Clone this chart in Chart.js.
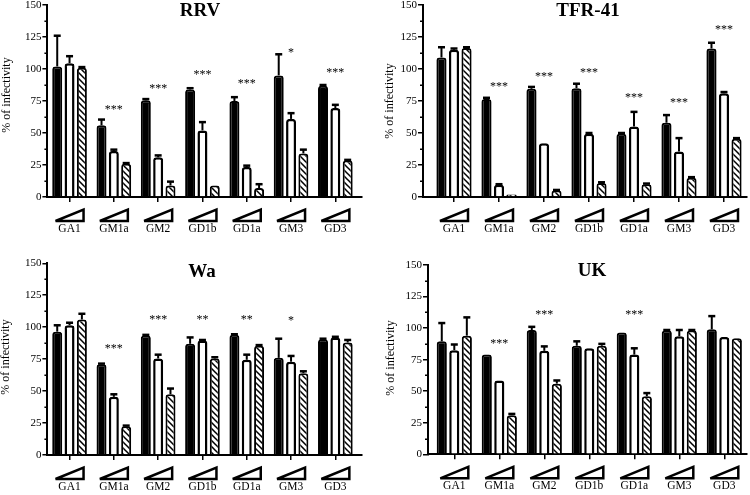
<!DOCTYPE html>
<html><head><meta charset="utf-8">
<script src="https://cdn.jsdelivr.net/npm/chart.js@4.4.1/dist/chart.umd.min.js"></script>
<style>
html,body{margin:0;padding:0;background:#fff;}
body{width:750px;height:495px;position:relative;overflow:hidden;}
canvas{position:absolute;}
</style></head><body>
<canvas id="c0" width="375" height="247" style="left:0;top:0"></canvas>
<canvas id="c1" width="375" height="247" style="left:375px;top:0"></canvas>
<canvas id="c2" width="375" height="248" style="left:0;top:247px"></canvas>
<canvas id="c3" width="375" height="248" style="left:375px;top:247px"></canvas>
<script>
// ---------- data ----------
const categories = ['GA1','GM1a','GM2','GD1b','GD1a','GM3','GD3'];
const yTickStep = 25;
const yMax = 150;

// RRV
const rrvLow     = [102, 56, 75.5, 84, 75, 95, 87];
const rrvLowErr  = [24, 4.5, 1, 1, 3, 16.5, 0.5];
const rrvMid     = [104.5, 36, 31, 52, 23.5, 61, 69.5];
const rrvMidErr  = [5.5, 1, 1.5, 6.5, 1, 4.5, 2.5];
const rrvHigh    = [101, 26, 9, 9, 7, 34, 28.5];
const rrvHighErr = [0.5, 0.5, 3, 0, 3, 3, 0.5];
const rrvStars   = ['', '***', '***', '***', '***', '*', '***'];
const rrvStarAt  = [null, 70, 86.5, 97.5, 91, 114.5, 99.5];

// TFR-41
const tfrLow     = [109, 76.5, 84.5, 85, 49.5, 58, 116];
const tfrLowErr  = [8, 1, 1.5, 3.5, 0.5, 6, 4.5];
const tfrMid     = [115, 9.5, 42, 49.5, 55, 35.5, 81];
const tfrMidErr  = [1, 0.5, 0, 0.5, 11.5, 10.5, 1];
const tfrHigh    = [116.5, 2, 5, 11, 10, 15, 45.5];
const tfrHighErr = [0.5, 0, 0.5, 0.5, 0.5, 0.5, 0.5];
const tfrStars   = ['', '***', '***', '***', '***', '***', '***'];
const tfrStarAt  = [null, 88.5, 96, 99.5, 79.5, 76, 133];

// Wa
const waLow     = [96.5, 71, 93.5, 87, 94, 76, 90.5];
const waLowErr  = [5, 0.5, 0.5, 5, 0.5, 15, 0.5];
const waMid     = [101.5, 45.5, 75.5, 89.5, 74.5, 73, 92];
const waMidErr  = [2, 2, 3, 0.5, 4, 4.5, 0.5];
const waHigh    = [106, 22.5, 47.5, 75.5, 85.5, 64, 88];
const waHighErr = [4.5, 0.5, 4.5, 1, 0.5, 1.5, 2];
const waStars   = ['', '***', '***', '**', '**', '*', ''];
const waStarAt  = [null, 85, 108, 108, 108, 107, null];

// UK
const ukLow     = [89.5, 79, 98.5, 86, 96.5, 98, 99];
const ukLowErr  = [14.5, 0, 2.5, 3.5, 0, 0.5, 10.5];
const ukMid     = [82.5, 58.5, 82, 84, 79, 93.5, 93];
const ukMidErr  = [4.5, 0, 3.5, 0, 5, 5, 0];
const ukHigh    = [94, 31, 56, 86, 46, 98, 92];
const ukHighErr = [14.5, 1, 2.5, 1.5, 2.5, 0.5, 0];
const ukStars   = ['', '***', '***', '', '***', '', ''];
const ukStarAt  = [null, 90, 113, null, 113, null, null];

const panelTitles = ['RRV', 'TFR-41', 'Wa', 'UK'];
const yAxisTitle = '% of infectivity';

// ---------- layout (positions only) ----------
const layouts = [
  {id:'c0', padTop:5,    yWidth:47.4, padRight:17.5, xHeight:50,   yShift:0,    xExtL:0,   xExtR:4.5, tX:200, tY:15.5, ytX:7,  ytY:95},
  {id:'c1', padTop:5,    yWidth:56.5, padRight:3.5,  xHeight:50,   yShift:-8.5, xExtL:8.5, xExtR:0,   tX:213, tY:15.5, ytX:15, ytY:101},
  {id:'c2', padTop:16.3, yWidth:47.4, padRight:17.5, xHeight:40,   yShift:0,    xExtL:0,   xExtR:4.5, tX:202, tY:29.5, ytX:6,  ytY:110},
  {id:'c3', padTop:18,   yWidth:56.8, padRight:3.2,  xHeight:40.7, yShift:-3.8, xExtL:3.8, xExtR:0,   tX:217, tY:29,   ytX:16, ytY:111}
];
const panelData = [
  {low:rrvLow, lowErr:rrvLowErr, mid:rrvMid, midErr:rrvMidErr, high:rrvHigh, highErr:rrvHighErr, stars:rrvStars, starAt:rrvStarAt},
  {low:tfrLow, lowErr:tfrLowErr, mid:tfrMid, midErr:tfrMidErr, high:tfrHigh, highErr:tfrHighErr, stars:tfrStars, starAt:tfrStarAt},
  {low:waLow,  lowErr:waLowErr,  mid:waMid,  midErr:waMidErr,  high:waHigh,  highErr:waHighErr,  stars:waStars,  starAt:waStarAt},
  {low:ukLow,  lowErr:ukLowErr,  mid:ukMid,  midErr:ukMidErr,  high:ukHigh,  highErr:ukHighErr,  stars:ukStars,  starAt:ukStarAt}
];

const SERIF = '"Liberation Serif", "DejaVu Serif", serif';

function makeHatch(ctx){
  const s = 6;
  const c = document.createElement('canvas'); c.width = s; c.height = s;
  const g = c.getContext('2d');
  g.fillStyle = '#fff'; g.fillRect(0,0,s,s);
  g.strokeStyle = '#000'; g.lineWidth = 1.5;
  g.beginPath();
  g.moveTo(-1,-1); g.lineTo(s+1,s+1);
  g.moveTo(-1,s-1); g.lineTo(1,s+1);
  g.moveTo(s-1,-1); g.lineTo(s+1,1);
  g.stroke();
  return ctx.createPattern(c, 'repeat');
}

const decor = {
  id: 'decor',
  afterLayout(chart){
    const p = chart.options.plugins.decor;
    const xs = chart.scales.x, ys = chart.scales.y;
    ys.left += p.L.yShift; ys.right += p.L.yShift;
    xs.left -= p.L.xExtL; xs.right += p.L.xExtR;
  },
  afterDatasetsDraw(chart){
    const p = chart.options.plugins.decor;
    const ys = chart.scales.y;
    const ctx = chart.ctx;
    const errs = [p.D.lowErr, p.D.midErr, p.D.highErr];
    const vals = [p.D.low, p.D.mid, p.D.high];
    ctx.save();
    ctx.strokeStyle = '#000';
    for (let d = 0; d < 3; d++){
      const meta = chart.getDatasetMeta(d);
      meta.data.forEach((el, j) => {
        const e = errs[d][j];
        if (!e) return;
        const yTop = ys.getPixelForValue(vals[d][j] + e);
        ctx.lineWidth = 2;
        ctx.beginPath(); ctx.moveTo(el.x, el.y); ctx.lineTo(el.x, yTop); ctx.stroke();
        ctx.lineWidth = 2.5;
        ctx.beginPath(); ctx.moveTo(el.x - 3.5, yTop); ctx.lineTo(el.x + 3.5, yTop); ctx.stroke();
      });
    }
    ctx.restore();
  },
  afterDraw(chart){
    const p = chart.options.plugins.decor;
    const L = p.L, D = p.D;
    const xs = chart.scales.x, ys = chart.scales.y;
    const ctx = chart.ctx;
    ctx.save();
    ctx.fillStyle = '#000'; ctx.strokeStyle = '#000';
    // minor y ticks
    ctx.lineWidth = 1.5;
    for (let v = yTickStep/2; v < yMax; v += yTickStep){
      const y = Math.round(ys.getPixelForValue(v)) + 0.25;
      ctx.beginPath(); ctx.moveTo(ys.right - 3, y); ctx.lineTo(ys.right, y); ctx.stroke();
    }
    // title
    ctx.font = 'bold 19px ' + SERIF;
    ctx.textAlign = 'center'; ctx.textBaseline = 'alphabetic';
    ctx.fillText(p.title, L.tX, L.tY);
    // y axis title
    ctx.save();
    ctx.translate(L.ytX, L.ytY); ctx.rotate(-Math.PI/2);
    ctx.font = '12px ' + SERIF; ctx.textBaseline = 'middle';
    ctx.fillText(yAxisTitle, 0, 0);
    ctx.restore();
    // significance stars
    ctx.font = '12px ' + SERIF; ctx.textAlign = 'center'; ctx.textBaseline = 'alphabetic';
    D.stars.forEach((s, j) => {
      if (!s) return;
      ctx.fillText(s, xs.getPixelForValue(j), ys.getPixelForValue(D.starAt[j]) + 6);
    });
    // concentration wedges
    ctx.lineWidth = 2.5; ctx.lineJoin = 'miter'; ctx.miterLimit = 3;
    categories.forEach((c, j) => {
      const cx = xs.getPixelForValue(j);
      const top = xs.top + 12.5, bot = xs.top + 24;
      const l = cx - 14, r = cx + 14;
      ctx.beginPath(); ctx.moveTo(l, bot); ctx.lineTo(r, top); ctx.lineTo(r, bot); ctx.closePath();
      ctx.fillStyle = '#fff'; ctx.fill(); ctx.stroke();
    });
    ctx.restore();
  }
};

layouts.forEach((L, i) => {
  const canvas = document.getElementById(L.id);
  const ctx = canvas.getContext('2d');
  const D = panelData[i];
  const hatch = makeHatch(ctx);
  const common = {borderColor:'#000', borderSkipped:'bottom', borderRadius:{topLeft:3, topRight:3, bottomLeft:0, bottomRight:0},
                  categoryPercentage:0.835, barPercentage:0.81};
  new Chart(ctx, {
    type: 'bar',
    data: {
      labels: categories,
      datasets: [
        Object.assign({label:'low',  data:D.low,  backgroundColor:'#000', borderWidth:2}, common),
        Object.assign({label:'mid',  data:D.mid,  backgroundColor:'#fff', borderWidth:2.5}, common),
        Object.assign({label:'high', data:D.high, backgroundColor:hatch,  borderWidth:2}, common)
      ]
    },
    options: {
      responsive:false, animation:false, events:[],
      layout:{padding:{top:L.padTop, right:L.padRight, left:0, bottom:0}},
      plugins:{legend:{display:false}, tooltip:{enabled:false}, title:{display:false},
               decor:{L:L, D:D, title:panelTitles[i]}},
      scales:{
        x:{
          type:'category', offset:true,
          grid:{display:true, offset:false, drawOnChartArea:false, drawTicks:true, tickLength:5, color:'#000', lineWidth:1.5},
          border:{display:true, color:'#000', width:2},
          ticks:{color:'#000', font:{family:SERIF, size:11.5}, padding:20, autoSkip:false, maxRotation:0, minRotation:0},
          afterFit(s){ s.height = L.xHeight; s.paddingLeft = 0; s.paddingRight = 0; }
        },
        y:{
          min:0, max:yMax,
          grid:{display:true, drawOnChartArea:false, drawTicks:true, tickLength:5, color:'#000', lineWidth:1.5},
          border:{display:true, color:'#000', width:2},
          ticks:{stepSize:yTickStep, color:'#000', font:{family:SERIF, size:11}, padding:1},
          afterFit(s){ s.width = L.yWidth; s.paddingTop = 0; s.paddingBottom = 0; }
        }
      }
    },
    plugins:[decor]
  });
});
</script>
</body></html>
